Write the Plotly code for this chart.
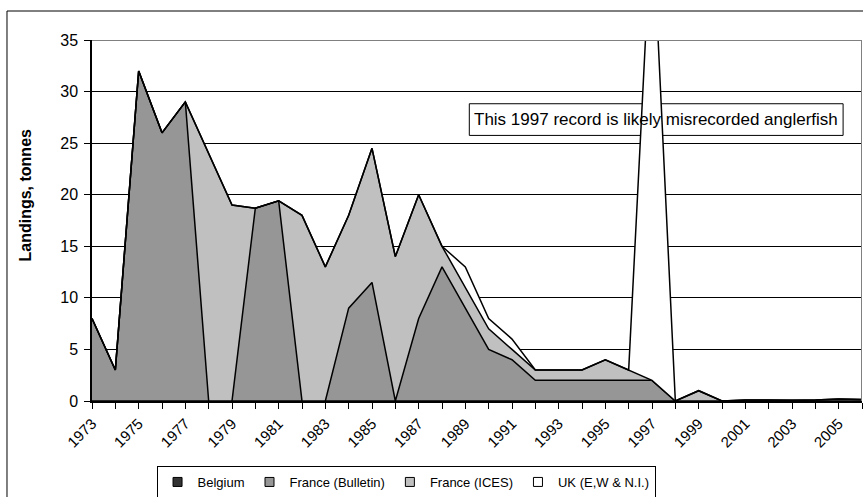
import plotly.graph_objects as go

years = list(range(1973, 2007))

belgium = [0]*34

france_bulletin = [8, 3, 32, 26, 29, 0, 0, 18.7, 19.4, 0,
                   0, 9, 11.5, 0, 8, 13, 9, 5, 4, 2,
                   2, 2, 2, 2, 2, 0, 0, 0, 0, 0,
                   0, 0, 0, 0]

france_ices = [0, 0, 0, 0, 0, 24, 19, 0, 0, 18,
               13, 9, 13, 14, 12, 2, 2, 2, 1, 1,
               1, 1, 2, 1, 0, 0, 1, 0, 0.1, 0.1,
               0.05, 0.1, 0.2, 0.15]

uk = [0, 0, 0, 0, 0, 0, 0, 0, 0, 0,
      0, 0, 0, 0, 0, 0, 2, 1, 1, 0,
      0, 0, 0, 0, 45.5, 0, 0, 0, 0, 0,
      0, 0, 0, 0]

tick_text = [str(y) if (y - 1973) % 2 == 0 else "" for y in years]

FONT = "Liberation Sans, Arial, sans-serif"

fig = go.Figure()
series = [
    ("Belgium", belgium, "#333333"),
    ("France (Bulletin)", france_bulletin, "#969696"),
    ("France (ICES)", france_ices, "#C0C0C0"),
    ("UK (E,W & N.I.)", uk, "#FFFFFF"),
]
for name, vals, col in series:
    fig.add_trace(go.Scatter(
        x=years, y=vals, name=name, mode="lines",
        stackgroup="one", fillcolor=col,
        line=dict(color="black", width=1.5),
        showlegend=False,
    ))
# legend entries (square swatches)
for name, vals, col in series:
    fig.add_trace(go.Scatter(
        x=[None], y=[None], name=name, mode="markers",
        marker=dict(symbol="square", size=9, color=col,
                    line=dict(color="black", width=1)),
        showlegend=True,
    ))

fig.update_layout(
    width=863, height=497,
    margin=dict(l=92, r=1, t=40, b=96, autoexpand=False),
    paper_bgcolor="white", plot_bgcolor="white",
    font=dict(family=FONT, size=15, color="black"),
    showlegend=True,
    legend=dict(
        orientation="h", traceorder="normal",
        xref="container", yref="container",
        x=0.4705, xanchor="center", y=(497 - 466) / 497, yanchor="top",
        bordercolor="black", borderwidth=1,
        font=dict(size=13), itemwidth=30,
        tracegroupgap=0,
    ),
)

fig.update_xaxes(
    range=[1973, 2006], tickmode="array", tickvals=years, ticktext=tick_text,
    tickangle=-45, ticks="outside", ticklen=6, tickcolor="black",
    showline=True, linecolor="black", linewidth=2,
    showgrid=False, zeroline=False, tickfont=dict(size=15),
    automargin=False,
)
fig.update_yaxes(
    range=[0, 35], tickmode="linear", tick0=0, dtick=5,
    ticks="outside", ticklen=6, tickcolor="black",
    showline=True, linecolor="black", linewidth=1.5,
    showgrid=True, gridcolor="black", gridwidth=1, zeroline=False,
    tickfont=dict(size=16), ticklabelstandoff=3,
    automargin=False,
)

# y-axis title placed like the original (above plot centre)
fig.add_annotation(xref="paper", yref="paper",
                   x=(24.5 - 92) / 770, y=(401 - 195) / 361,
                   text="<b>Landings, tonnes</b>", textangle=-90,
                   showarrow=False, font=dict(size=16, family=FONT),
                   xanchor="center", yanchor="middle")

# plot area top/right border (gray)
fig.add_shape(type="line", xref="x", yref="y", x0=1973, x1=2006, y0=35, y1=35,
              line=dict(color="#808080", width=2), layer="above")
fig.add_shape(type="line", xref="x", yref="y", x0=2006, x1=2006, y0=0, y1=35,
              line=dict(color="#808080", width=2), layer="above")

# outer chart border
fig.add_shape(type="rect", xref="paper", yref="paper",
              x0=-0.1104, x1=1.02, y0=-0.3, y1=1.0803,
              line=dict(color="black", width=1), fillcolor="rgba(0,0,0,0)")

# annotation box (drawn between grid and traces)
fig.add_shape(type="rect", xref="x", yref="y",
              x0=1989.17, x1=2005.19, y0=25.75, y1=28.82,
              line=dict(color="black", width=1), fillcolor="white", layer="between")
fig.add_annotation(x=1997.18, y=27.29, xref="x", yref="y",
                   text="This 1997 record is likely misrecorded anglerfish",
                   showarrow=False, font=dict(size=17, family=FONT))

fig.write_html("out.html", config={"displayModeBar": False},
               post_script="document.body.style.margin='0';document.body.style.overflow='hidden';")
